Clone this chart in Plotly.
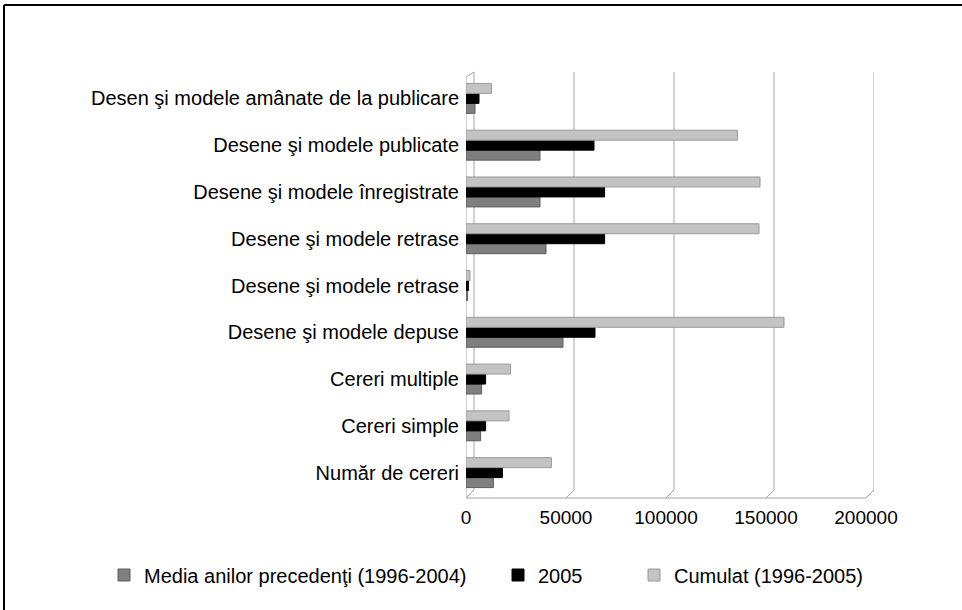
import plotly.graph_objects as go

# categories, bottom to top (same label appears twice in the source chart)
categories = [
    "Număr de cereri",
    "Cereri simple",
    "Cereri multiple",
    "Desene şi modele depuse",
    "Desene şi modele retrase",
    "Desene şi modele retrase",
    "Desene şi modele înregistrate",
    "Desene şi modele publicate",
    "Desen şi modele amânate de la publicare",
]
media_1996_2004 = [13700, 7300, 7800, 48500, 800, 40000, 37000, 37000, 4500]
an_2005 = [18200, 9800, 9800, 64500, 1200, 69300, 69300, 64000, 6500]
cumulat_1996_2005 = [42700, 21500, 22300, 159000, 2000, 146500, 147000, 135700, 12700]

x_ticks = [0, 50000, 100000, 150000, 200000]

W, H = 962, 610
L, R, T, B = 466, 874, 75, 496  # plot area in pixels
DEPTH = 4000  # back wall offset (data units) for the pseudo-3D look
FONT = "Liberation Sans, Arial, sans-serif"


def px_x(p):
    return (p - L) / (R - L)


def px_y(p):
    return (B - p) / (B - T)


pos = list(range(len(categories)))

series = [
    ("Media anilor precedenţi (1996-2004)", media_1996_2004, "#7f7f7f", "#5e5e5e", "legend"),
    ("2005", an_2005, "#000000", "#000000", "legend2"),
    ("Cumulat (1996-2005)", cumulat_1996_2005, "#c3c3c3", "#9a9a9a", "legend3"),
]

fig = go.Figure()
for name, vals, col, edge, leg in series:
    fig.add_trace(go.Bar(
        y=pos, x=vals, name=name, orientation="h",
        marker=dict(color=col, line=dict(color=edge, width=1)),
        legend=leg,
    ))

shapes = []
grid = dict(color="#a6a6a6", width=1)
# back-wall gridlines and floor slants
for v in x_ticks:
    shapes.append(dict(type="line", xref="x", yref="paper", x0=v + DEPTH, x1=v + DEPTH,
                       y0=px_y(490), y1=px_y(72), line=grid, layer="below"))
    shapes.append(dict(type="line", xref="x", yref="paper", x0=v, x1=v + DEPTH,
                       y0=px_y(498), y1=px_y(490), line=grid, layer="below"))
# front floor edge, left wall edge and its top slant
shapes.append(dict(type="line", xref="x", yref="paper", x0=0, x1=x_ticks[-1],
                   y0=px_y(498), y1=px_y(498), line=grid, layer="below"))
shapes.append(dict(type="line", xref="x", yref="paper", x0=0, x1=0,
                   y0=px_y(498), y1=px_y(77), line=grid, layer="below"))
shapes.append(dict(type="line", xref="x", yref="paper", x0=0, x1=DEPTH,
                   y0=px_y(77), y1=px_y(72), line=grid, layer="below"))
# outer frame (top and left edges only visible)
frame = dict(color="#000000", width=2)
shapes.append(dict(type="line", xref="paper", yref="paper", x0=px_x(4), x1=px_x(W),
                   y0=px_y(5), y1=px_y(5), line=frame))
shapes.append(dict(type="line", xref="paper", yref="paper", x0=px_x(4), x1=px_x(4),
                   y0=px_y(5), y1=px_y(H), line=frame))

leg_common = dict(orientation="h", yanchor="middle", xanchor="left",
                  font=dict(family=FONT, size=20, color="#000"),
                  bgcolor="rgba(0,0,0,0)", itemwidth=30)

fig.update_layout(
    width=W, height=H,
    margin=dict(l=L, r=W - R, t=T, b=H - B, pad=0),
    paper_bgcolor="white", plot_bgcolor="white",
    barmode="group", bargap=0.36, bargroupgap=0,
    font=dict(family=FONT, size=20, color="#000"),
    showlegend=True,
    legend=dict(leg_common, x=px_x(104), y=px_y(575)),
    legend2=dict(leg_common, x=px_x(498), y=px_y(575)),
    legend3=dict(leg_common, x=px_x(634), y=px_y(575)),
    shapes=shapes,
    xaxis=dict(range=[0, x_ticks[-1] + DEPTH], tickvals=x_ticks,
               ticktext=[str(v) for v in x_ticks],
               showgrid=False, zeroline=False, showline=False,
               ticks="", ticklabelstandoff=8,
               tickfont=dict(family=FONT, size=19, color="#000")),
    yaxis=dict(range=[-0.5, len(categories) - 0.5], tickvals=pos, ticktext=categories,
               showgrid=False, zeroline=False, showline=False,
               ticks="", ticklabelstandoff=6,
               tickfont=dict(family=FONT, size=20, color="#000")),
)

# drop the browser's default 8px body margin so the figure sits at the page origin
fig.write_html("out.html", config={"displayModeBar": False},
               post_script="document.body.style.margin = '0';")
